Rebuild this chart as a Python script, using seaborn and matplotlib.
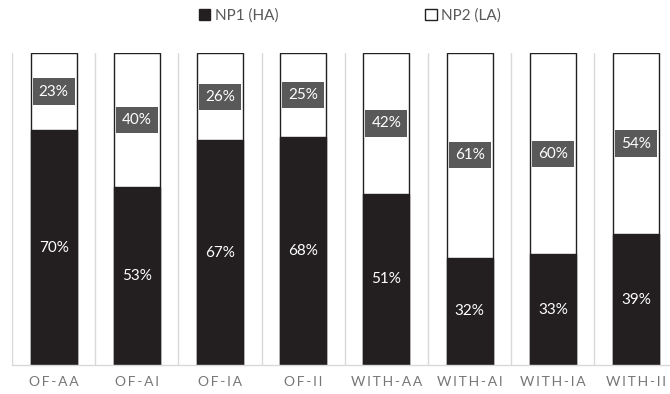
import numpy as np
import pandas as pd
import matplotlib
matplotlib.use("Agg")
import matplotlib.pyplot as plt
import seaborn as sns
from matplotlib.patches import Patch

categories = ["OF-AA", "OF-AI", "OF-IA", "OF-II", "WITH-AA", "WITH-AI", "WITH-IA", "WITH-II"]
np1_ha = [70, 53, 67, 68, 51, 32, 33, 39]
np2_la = [23, 40, 26, 25, 42, 61, 60, 54]
series_names = ["NP1 (HA)", "NP2 (LA)"]

sns.set_theme(style="white")
plt.rcParams["font.family"] = ["Lato", "DejaVu Sans"]

DARK = "#231f20"
TEXT = "#595959"
TICK = "#767676"
GRID = "#d9d9d9"

df = pd.DataFrame({"cat": categories, "np1": np1_ha, "np2": np2_la})
df["total"] = df["np1"] + df["np2"]

fig = plt.figure(figsize=(6.70, 3.94), dpi=100)
ax = fig.add_axes([12 / 670, 29 / 394, 665.6 / 670, 312 / 394])

# stacked look: full-height white bars, then the NP1 part in black over them
sns.barplot(data=df, x="cat", y="total", color="white", edgecolor=DARK,
            linewidth=1.0, width=0.553, saturation=1, ax=ax)
sns.barplot(data=df, x="cat", y="np1", color=DARK, edgecolor=DARK,
            linewidth=1.0, width=0.553, saturation=1, ax=ax)

ax.set_xlim(-0.5, len(categories) - 0.5)
ax.set_ylim(0, 93)
ax.set_xlabel("")
ax.set_ylabel("")
ax.set_yticks([])

# vertical separators between categories
for i in range(len(categories) + 1):
    ax.axvline(i - 0.5, color=GRID, lw=1.0, zorder=0)
for s in ["top", "right", "left"]:
    ax.spines[s].set_visible(False)
ax.spines["bottom"].set_color(GRID)
ax.spines["bottom"].set_linewidth(1.0)

spaced = ["\u2009".join(c) for c in categories]
ax.set_xticks(range(len(categories)))
ax.set_xticklabels(spaced, fontsize=10, color=TICK)
ax.tick_params(axis="x", length=0, pad=8)

for i, (a, b) in enumerate(zip(np1_ha, np2_la)):
    ax.text(i, a / 2, f"{a}%", ha="center", va="center", color="white",
            fontsize=11)
    ax.text(i, a + b / 2, f"{b}%", ha="center", va="center", color="white",
            fontsize=11,
            bbox=dict(boxstyle="square,pad=0.4", fc=TEXT, ec="none"))

handles = [Patch(facecolor=DARK, edgecolor=DARK, label=series_names[0]),
           Patch(facecolor="white", edgecolor=DARK, label=series_names[1])]
fig.legend(handles=handles, loc="center", bbox_to_anchor=(350 / 670, 1 - 16 / 394),
           ncol=2, frameon=False, fontsize=11, labelcolor=TEXT,
           handlelength=0.75, handleheight=0.75, handletextpad=0.3,
           columnspacing=9.6)

fig.savefig("out.png", dpi=100)
